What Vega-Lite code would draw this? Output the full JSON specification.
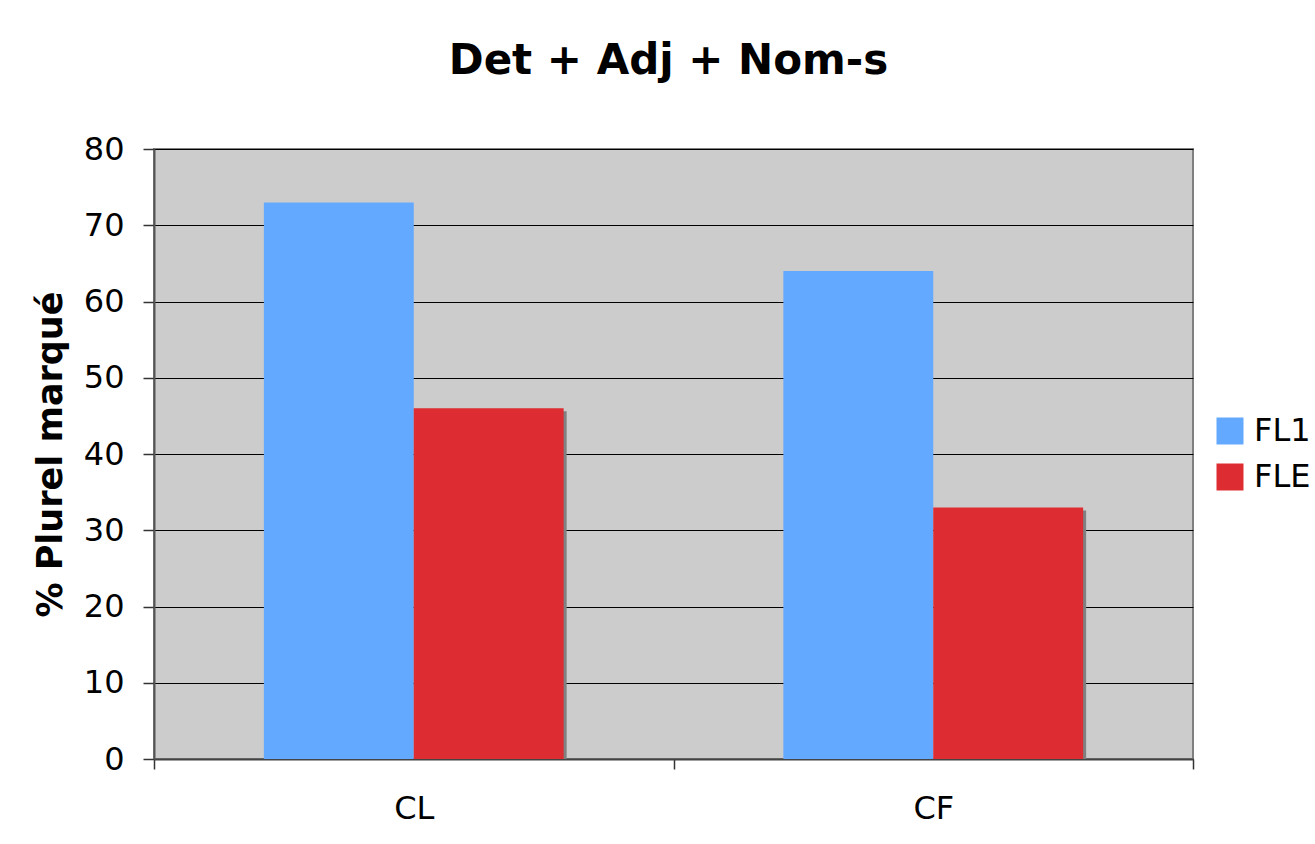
{
  "$schema": "https://vega.github.io/schema/vega-lite/v6.json",
  "width": 1039,
  "height": 610,
  "autosize": {"type": "none"},
  "padding": {"left": 154, "top": 149, "right": 122, "bottom": 85},
  "background": "#FFFFFF",
  "title": {
    "text": "Det + Adj + Nom-s",
    "font": "DejaVu Sans",
    "fontSize": 42,
    "fontWeight": "bold",
    "color": "#000000",
    "anchor": "middle",
    "dx": -5,
    "offset": 50
  },
  "data": {
    "values": [
      {"cat": "CL", "series": "FL1", "value": 73},
      {"cat": "CL", "series": "FLE", "value": 46},
      {"cat": "CF", "series": "FL1", "value": 64},
      {"cat": "CF", "series": "FLE", "value": 33}
    ]
  },
  "encoding": {
    "x": {
      "field": "cat",
      "type": "nominal",
      "sort": ["CL", "CF"],
      "scale": {"paddingInner": 0, "paddingOuter": 0},
      "axis": {
        "title": null,
        "labelAngle": 0,
        "labelFont": "DejaVu Sans",
        "labelFontSize": 32,
        "labelColor": "#000000",
        "labelPadding": 24,
        "tickBand": "extent",
        "tickSize": 10,
        "tickColor": "#333333",
        "tickWidth": 1.5,
        "domainColor": "#444444",
        "domainWidth": 2,
        "grid": false
      }
    },
    "y": {
      "field": "value",
      "type": "quantitative",
      "scale": {"domain": [0, 80], "nice": false},
      "axis": {
        "title": "% Plurel marqué",
        "titleFont": "DejaVu Sans",
        "titleFontSize": 35,
        "titleFontWeight": "bold",
        "titleColor": "#000000",
        "titlePadding": 15,
        "values": [0, 10, 20, 30, 40, 50, 60, 70, 80],
        "labelFont": "DejaVu Sans",
        "labelFontSize": 32,
        "labelColor": "#000000",
        "labelPadding": 19,
        "tickSize": 11,
        "tickColor": "#333333",
        "tickWidth": 1.5,
        "domainColor": "#555555",
        "domainWidth": 2,
        "grid": true,
        "gridColor": "#000000",
        "gridWidth": 1
      }
    }
  },
  "layer": [
    {
      "transform": [{"filter": "datum.series == 'FLE'"}],
      "mark": {"type": "bar", "color": "#808080", "yOffset": 3, "y2Offset": 3, "clip": true},
      "encoding": {
        "xOffset": {
          "field": "series",
          "type": "nominal",
          "scale": {"domain": ["FL1", "FLE"], "paddingInner": 0, "paddingOuter": 0.733, "align": 0.5137}
        }
      }
    },
    {
      "mark": {"type": "bar"},
      "encoding": {
        "xOffset": {
          "field": "series",
          "type": "nominal",
          "scale": {"domain": ["FL1", "FLE"], "paddingInner": 0, "paddingOuter": 0.733}
        },
        "color": {
          "field": "series",
          "type": "nominal",
          "scale": {"domain": ["FL1", "FLE"], "range": ["#63A9FF", "#DE2C33"]},
          "legend": {
            "title": null,
            "orient": "none",
            "legendX": 1060,
            "legendY": 266,
            "padding": 0,
            "symbolType": "square",
            "symbolSize": 729,
            "symbolStrokeWidth": 0,
            "symbolOpacity": 1,
            "labelFont": "DejaVu Sans",
            "labelFontSize": 32,
            "labelColor": "#000000",
            "labelOffset": 8,
            "labelLimit": 0,
            "rowPadding": 14
          }
        }
      }
    }
  ],
  "resolve": {"scale": {"xOffset": "independent"}},
  "config": {
    "view": {"fill": "#CCCCCC", "stroke": "#808080", "strokeWidth": 2}
  }
}
